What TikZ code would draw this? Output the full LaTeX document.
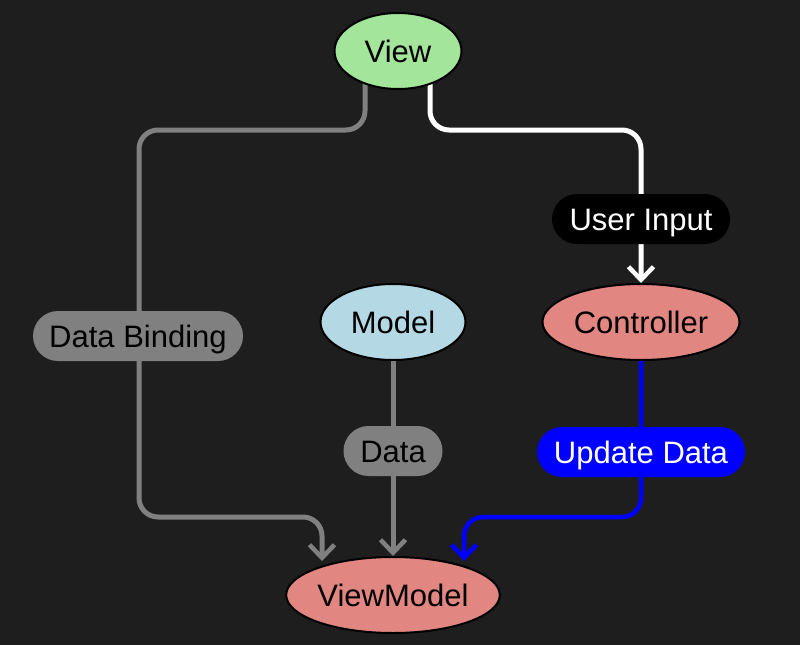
\documentclass[tikz,border=0pt]{standalone}
\usepackage{fontspec}
\setmainfont{Liberation Sans}
\usetikzlibrary{arrows.meta,shapes.geometric}
\definecolor{bgc}{HTML}{1E1E1E}
\definecolor{viewc}{HTML}{A3E59B}
\definecolor{modelc}{HTML}{B5D8E5}
\definecolor{redc}{HTML}{E18681}
\definecolor{grayc}{HTML}{808080}
\pgfdeclarelayer{back}
\pgfdeclarelayer{edges}
\pgfsetlayers{back,edges,main}
\tikzset{
  x=1pt, y=-1pt,
  every node/.style={font=\fontsize{31}{36}\selectfont, text height=22pt, text depth=0pt},
  ell/.style={ellipse, draw=black, line width=2pt, inner sep=0pt, text=black},
  lbl/.style={rectangle, rounded corners=25pt, inner sep=0pt, minimum height=50pt},
  edge/.style={line width=5pt, rounded corners=19pt, -{Straight Barb[length=13pt,width=25pt,line width=4.5pt]}},
}
\begin{document}
\begin{tikzpicture}
\begin{pgfonlayer}{back}
\fill[bgc] (0,0) rectangle (800,645);
\end{pgfonlayer}
\useasboundingbox (0,0) rectangle (800,645);

\node[ell, fill=viewc, minimum width=127pt, minimum height=76pt] (view) at (398,51) {View};
\node[ell, fill=modelc, minimum width=145pt, minimum height=76pt] (model) at (393,322) {Model};
\node[ell, fill=redc, minimum width=197pt, minimum height=76pt] (ctrl) at (641,322) {Controller};
\node[ell, fill=redc, minimum width=210pt, minimum height=76pt] (vm) at (393,595) {ViewModel};

\node[lbl, fill=grayc, text=black, minimum width=210pt] (db) at (138,336) {Data Binding};
\node[lbl, fill=grayc, text=black, minimum width=99pt] (data) at (393,451) {Data};
\node[lbl, fill=black, text=white, minimum width=178pt] (ui) at (641,219) {User Input};
\node[lbl, fill=blue, text=white, minimum width=208pt] (ud) at (641,452) {Update Data};

\coordinate (dbend) at (322,561);
\coordinate (udend) at (464,561);

\begin{pgfonlayer}{edges}
\draw[edge, grayc] ([xshift=-33pt]view.center) -- (365,130) -- (139,130) -- (139,517) -- (322,517) -- (dbend);
\draw[edge, white] ([xshift=32pt]view.center) -- (430,130) -- (641,130) -- (ui) -- (ctrl.north);
\draw[edge, grayc] (model) -- (data) -- (vm.north);
\draw[edge, blue, line width=4.5pt] (ctrl) -- (ud) -- (641,517) -- (464,517) -- (udend);
\end{pgfonlayer}
\end{tikzpicture}
\end{document}
